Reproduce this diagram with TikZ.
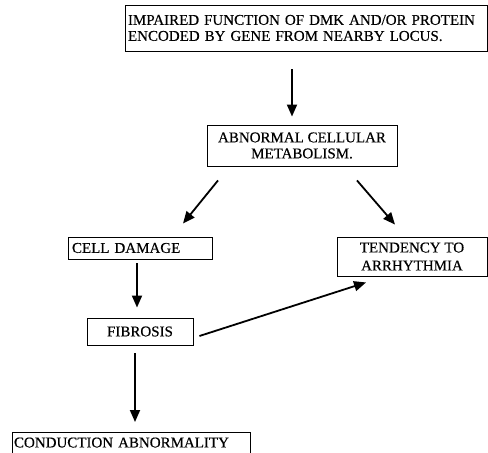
\documentclass[tikz,border=0pt]{standalone}
\usepackage{fontspec}
\setmainfont[FakeBold=0.4]{Liberation Serif}
\usetikzlibrary{positioning,arrows.meta}
\begin{document}
\begin{tikzpicture}[x=1pt,y=-1pt,
    box/.style={draw=black,line width=0.9pt,inner sep=0pt,
      font=\fontsize{15}{16}\selectfont},
    arr/.style={draw=black,line width=1.8pt,
      -{Triangle[length=12pt,width=10pt]}}]
  \useasboundingbox (0,0) rectangle (488,453);
  % boxes
  \node[box,text width=356pt,inner xsep=3pt,align=left,minimum height=46pt]
    (impair) at (306,28) {IMPAIRED FUNCTION OF DMK AND/OR PROTEIN\\
    ENCODED BY GENE FROM NEARBY LOCUS.};
  \node[box,minimum width=190pt,minimum height=41pt,align=center]
    (metab) at (302,145.5) {ABNORMAL CELLULAR\\METABOLISM.};
  \node[box,text width=136pt,inner xsep=4pt,align=left,minimum height=22pt]
    (damage) at (140,248) {CELL DAMAGE};
  \node[box,minimum width=106pt,minimum height=27pt]
    (fibrosis) at (140,331.5) {FIBROSIS};
  \node[box,minimum width=150pt,minimum height=39pt,align=center,
    font=\fontsize{15}{18}\selectfont]
    (arrhyth) at (412,256.5) {TENDENCY TO\\ARRHYTHMIA};
  \node[box,anchor=north,text width=234pt,inner xsep=2pt,inner ysep=2pt,
    text height=13pt,text depth=9pt,align=left]
    (conduct) at (131,432) {CONDUCTION ABNORMALITY};
  % arrows
  \path[arr] ([shift={(-14,18)}]impair.south) -- ([shift={(-10,-8)}]metab.north);
  \path[arr] ([shift={(-84,14)}]metab.south) -- ([shift={(43,-13)}]damage.north);
  \path[arr] ([shift={(55,14)}]metab.south) -- ([shift={(-17,-12)}]arrhyth.north);
  \path[arr] ([shift={(-3,4)}]damage.south) -- ([shift={(-3,-10)}]fibrosis.north);
  \path[arr] ([shift={(6,4.5)}]fibrosis.east) -- ([shift={(-46,6)}]arrhyth.south);
  \path[arr] ([shift={(-5,8)}]fibrosis.south) -- ([shift={(4,-10)}]conduct.north);
\end{tikzpicture}
\end{document}
